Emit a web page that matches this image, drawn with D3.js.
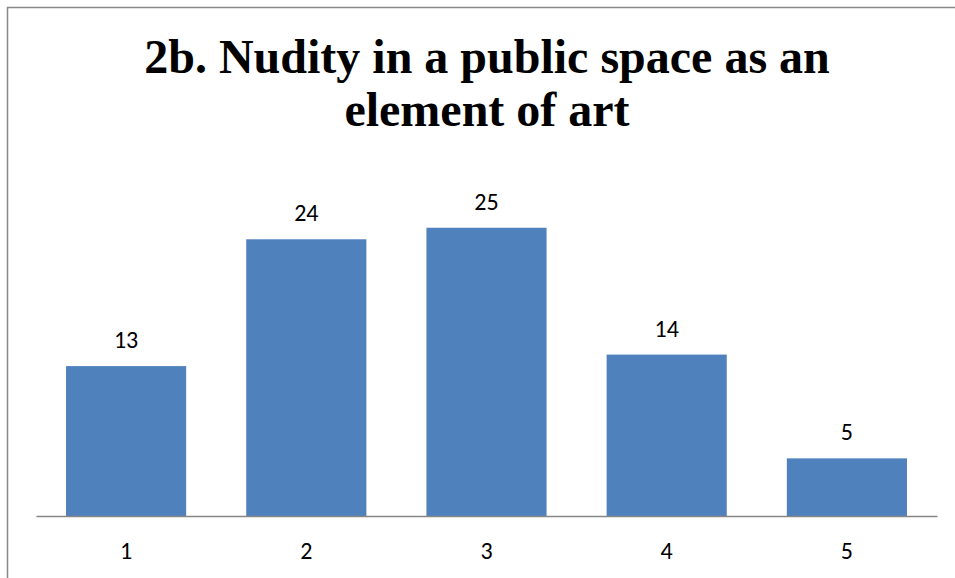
<!DOCTYPE html>
<html>
<head>
<meta charset="utf-8">
<script src="https://cdn.jsdelivr.net/npm/d3@7"></script>
<style>
  html, body { margin: 0; padding: 0; background: #fff; }
  svg { display: block; }
</style>
</head>
<body>
<svg id="chart" width="955" height="578"></svg>
<script>
const categories = ["1", "2", "3", "4", "5"];
const values = [13, 24, 25, 14, 5];
const titleLines = ["2b. Nudity in a public space as an", "element of art"];

const W = 955, H = 578;
const svg = d3.select("#chart");

// outer border (left and top visible)
svg.append("path")
  .attr("d", `M7.5,${H} L7.5,7.5 L${W},7.5`)
  .attr("fill", "none")
  .attr("stroke", "#898989")
  .attr("stroke-width", 1.5);

const x = d3.scaleBand()
  .domain(categories)
  .range([36, 937])
  .paddingInner(1/3)
  .paddingOuter(1/6);

const y = d3.scaleLinear()
  .domain([0, 30])
  .range([516, 516 - 30 * 11.53]);

// bars
svg.append("g").selectAll("rect")
  .data(values)
  .join("rect")
  .attr("x", (d, i) => x(categories[i]))
  .attr("width", x.bandwidth())
  .attr("y", d => y(d))
  .attr("height", d => y(0) - y(d))
  .attr("fill", "#4F81BD");

// x axis
const xAxis = d3.axisBottom(x).tickSize(0).tickPadding(0);
const gx = svg.append("g")
  .attr("transform", `translate(0,${y(0)})`)
  .call(xAxis);
gx.select(".domain").attr("stroke", "#868686").attr("stroke-width", 1.5);
gx.selectAll("text")
  .attr("dy", null)
  .attr("y", 43)
  .attr("font-family", "Carlito, 'Open Sans', 'Liberation Sans', sans-serif")
  .attr("font-size", 24)
  .attr("fill", "#000");

// value labels
svg.append("g").selectAll("text")
  .data(values)
  .join("text")
  .attr("x", (d, i) => x(categories[i]) + x.bandwidth() / 2)
  .attr("y", d => y(d) - 18)
  .attr("text-anchor", "middle")
  .attr("font-family", "Carlito, 'Open Sans', 'Liberation Sans', sans-serif")
  .attr("font-size", 24)
  .attr("fill", "#000")
  .text(d => d);

// title
svg.append("g").selectAll("text")
  .data(titleLines)
  .join("text")
  .attr("x", 487)
  .attr("y", (d, i) => 73 + i * 52.5)
  .attr("text-anchor", "middle")
  .attr("font-family", "'Liberation Serif', 'Times New Roman', serif")
  .attr("font-weight", "bold")
  .attr("font-size", 48)
  .attr("fill", "#000")
  .text(d => d);
</script>
</body>
</html>
